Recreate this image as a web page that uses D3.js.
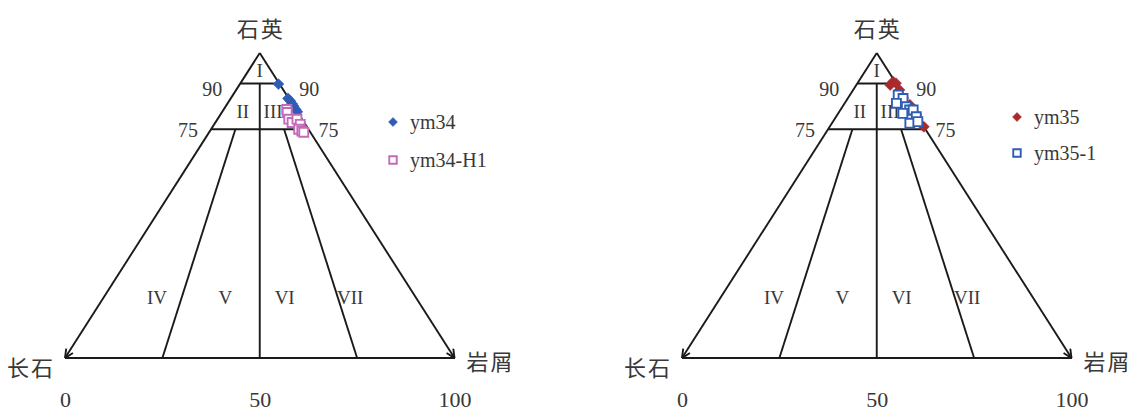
<!DOCTYPE html>
<html>
<head>
<meta charset="utf-8">
<script src="https://cdn.jsdelivr.net/npm/d3@7"></script>
<style>
  body { margin: 0; background: #fff; }
  text { fill: #383838; font-family: "Liberation Serif", "DejaVu Serif", serif; }
  .cjk { font-family: "Noto Sans CJK SC", sans-serif; letter-spacing: 2px; }
</style>
</head>
<body>
<svg id="chart" width="1135" height="419"></svg>
<script>
// sample points as [Q (石英), F (长石), R (岩屑)] in percent
const ym34 = [[89.8, 0.3, 9.9], [85.1, 0.2, 14.7], [84.3, 0.0, 15.7], [83.4, 0.0, 16.6],
              [82.6, 0.0, 17.4], [81.5, 0.0, 18.5], [80.7, 0.0, 19.3]];
const ym34H1 = [[81.5, 2.3, 16.2], [80.5, 2.7, 16.8], [78.3, 3.4, 18.3], [77.2, 3.1, 19.7],
                [78.3, 1.3, 20.4], [76.6, 1.3, 22.1], [75.0, 2.5, 22.5], [74.4, 2.0, 23.6],
                [74.0, 1.7, 24.3]];
const ym35 = [[90.6, 0.5, 8.9], [89.5, 1.8, 8.7], [90.1, 0.0, 9.9], [87.9, 0.2, 11.9],
              [85.2, 0.6, 14.2], [83.0, 0.0, 17.0], [79.7, 0.0, 20.3], [75.8, 0.0, 24.2]];
const ym351 = [[86.2, 1.4, 12.4], [85.1, 0.7, 14.2], [83.5, 3.2, 13.3], [82.4, 1.2, 16.4],
               [81.3, 0.9, 17.8], [81.3, 0.0, 18.7], [80.2, 3.2, 16.6], [79.1, 0.3, 20.6],
               [77.0, 3.0, 20.0], [77.5, 0.7, 21.8]];

const baseTicks = [0, 50, 100];
const qLevels = [90, 75];
const zoneNames = ["I", "II", "III", "IV", "V", "VI", "VII"];
// where each zone name sits: [Q, share of R in (F+R)]
const zoneSpots = [[94.5, 0.5], [81, 0.27], [81, 0.68], [20, 0.17], [20, 0.39], [20, 0.58], [20, 0.79]];

const svg = d3.select("#chart");

const defs = svg.append("defs");
defs.append("marker").attr("id", "arrow")
    .attr("viewBox", "0 0 10 10").attr("refX", 9.5).attr("refY", 5)
    .attr("markerWidth", 10).attr("markerHeight", 10)
    .attr("markerUnits", "userSpaceOnUse").attr("orient", "auto")
  .append("path").attr("d", "M1,1 L9.5,5 L1,9")
    .attr("fill", "none").attr("stroke", "#1a1a1a").attr("stroke-width", 1.9);

function drawTernary(x0, series, legendX, legendY, legendGap) {
    const x = d3.scaleLinear().domain([0, 100]).range([x0, x0 + 389.5]);
    const y = d3.scaleLinear().domain([0, 100]).range([358, 53]);
    // Q, R -> screen point
    const pt = (q, r) => [x(r + q / 2), y(q)];
    // point at level q with a given R/(F+R) share
    const at = (q, share) => pt(q, (100 - q) * share);

    const g = svg.append("g");
    const line = (a, b) => g.append("line")
        .attr("x1", a[0]).attr("y1", a[1]).attr("x2", b[0]).attr("y2", b[1])
        .attr("stroke", "#1a1a1a").attr("stroke-width", 1.9);

    line(pt(100, 0), pt(0, 0)).attr("marker-end", "url(#arrow)");
    line(pt(100, 0), pt(0, 100)).attr("marker-end", "url(#arrow)");
    line(pt(0, 0), pt(0, 100));
    qLevels.forEach(q => line(at(q, 0), at(q, 1)));
    line(at(90, 0.5), at(0, 0.5));
    line(at(75, 0.25), at(0, 0.25));
    line(at(75, 0.75), at(0, 0.75));

    // level labels on both sides
    const lblGap = { 90: [18, 20, 12.5], 75: [13, 10, 7.5] };
    qLevels.forEach(q => {
        const l = at(q, 0), r = at(q, 1), k = lblGap[q];
        g.append("text").attr("x", l[0] - k[0]).attr("y", l[1] + k[2])
            .attr("text-anchor", "end").attr("font-size", 20).text(q);
        g.append("text").attr("x", r[0] + k[1]).attr("y", r[1] + k[2])
            .attr("text-anchor", "start").attr("font-size", 20).text(q);
    });

    zoneNames.forEach((n, i) => {
        const p = at(zoneSpots[i][0], zoneSpots[i][1]);
        g.append("text").attr("x", p[0]).attr("y", p[1] + 7)
            .attr("text-anchor", "middle").attr("font-size", 19).text(n);
    });

    // pole names
    const top = pt(100, 0), lf = pt(0, 0), rt = pt(0, 100);
    g.append("text").attr("class", "cjk").attr("x", top[0] + 1).attr("y", top[1] - 16)
        .attr("text-anchor", "middle").attr("font-size", 22).text("石英");
    g.append("text").attr("class", "cjk").attr("x", lf[0] - 10).attr("y", lf[1] + 18)
        .attr("text-anchor", "end").attr("font-size", 22).text("长石");
    g.append("text").attr("class", "cjk").attr("x", rt[0] + 12).attr("y", rt[1] + 12)
        .attr("text-anchor", "start").attr("font-size", 22).text("岩屑");

    // 0 / 50 / 100 under the base
    const axis = d3.axisBottom(x).tickValues(baseTicks).tickSize(0).tickPadding(0);
    const ax = g.append("g").attr("transform", "translate(0,391)").call(axis);
    ax.select(".domain").remove();
    ax.selectAll("text").attr("font-size", 22)
        .attr("font-family", "Liberation Serif, serif").attr("fill", "#383838");

    const diamond = d3.symbol().type(d3.symbolSquare).size(60);
    const square = d3.symbol().type(d3.symbolSquare).size(80);

    series.forEach((s, i) => {
        const sym = s.shape === "diamond" ? diamond : square;
        const rot = s.shape === "diamond" ? " rotate(45)" : "";
        g.append("g").selectAll("path").data(s.data).join("path")
            .attr("d", sym)
            .attr("transform", d => {
                const p = pt(d[0], d[2]);
                return "translate(" + p[0] + "," + p[1] + ")" + rot;
            })
            .attr("fill", s.shape === "diamond" ? s.color : "#fff")
            .attr("stroke", s.color)
            .attr("stroke-width", s.shape === "diamond" ? 0.5 : 1.9);

        // legend entry
        const ly = legendY + i * legendGap;
        g.append("path")
            .attr("d", s.shape === "diamond" ? d3.symbol().type(d3.symbolSquare).size(40)
                                             : d3.symbol().type(d3.symbolSquare).size(56))
            .attr("transform", "translate(" + legendX + "," + ly + ")" + rot)
            .attr("fill", s.shape === "diamond" ? s.color : "#fff")
            .attr("stroke", s.color)
            .attr("stroke-width", s.shape === "diamond" ? 0.5 : 1.9);
        g.append("text").attr("x", legendX + 17).attr("y", ly + 7)
            .attr("font-size", 20).text(s.name);
    });
}

drawTernary(65, [
    { name: "ym34", data: ym34, shape: "diamond", color: "#2f5db5" },
    { name: "ym34-H1", data: ym34H1, shape: "square", color: "#c46ab9" }
], 393, 122, 38);

drawTernary(682, [
    { name: "ym35", data: ym35, shape: "diamond", color: "#a82a2c" },
    { name: "ym35-1", data: ym351, shape: "square", color: "#2f5db5" }
], 1017, 117, 36);
</script>
</body>
</html>
